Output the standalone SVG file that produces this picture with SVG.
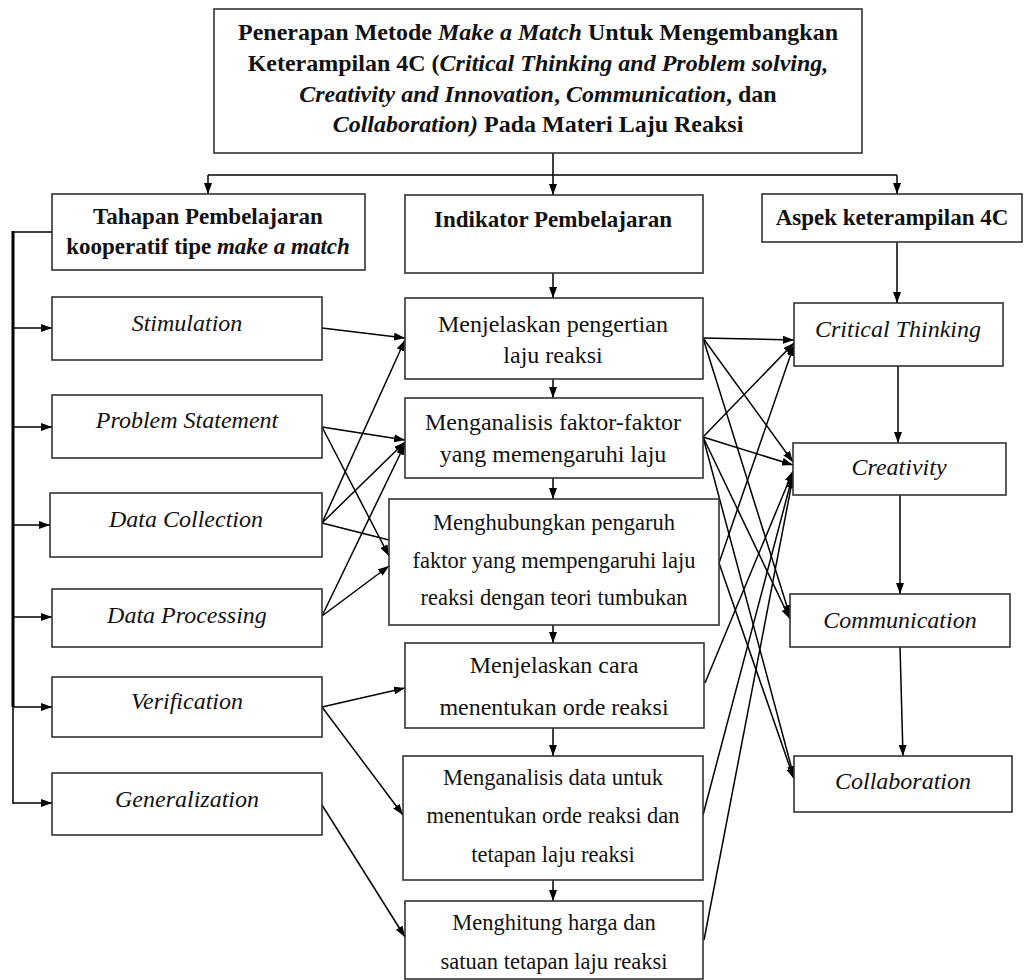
<svg xmlns="http://www.w3.org/2000/svg" width="1025" height="980" viewBox="0 0 1025 980">
<defs>
<marker id="ah" markerWidth="11" markerHeight="8" refX="11" refY="4" orient="auto" markerUnits="userSpaceOnUse"><path d="M0,0 L11,4 L0,8 z" fill="#000"/></marker>
<style>
.box{fill:#fff;stroke:#333;stroke-width:1.6}
.t{font-family:"Liberation Serif","Times New Roman",serif;fill:#111;text-anchor:middle}
.b{font-weight:bold;font-size:23px}
.tt{font-weight:bold;font-size:24px}
.i{font-style:italic;font-size:24px}
.r{font-size:24px}
.s{font-size:22.5px}
.ri{font-style:italic;font-size:24px}
.c{fill:none;stroke:#000;stroke-width:1.5}
.a{fill:none;stroke:#000;stroke-width:1.5;marker-end:url(#ah)}
</style>
</defs>
<rect width="1025" height="980" fill="#fff"/>

<g id="connectors">
  <path class="c" d="M553,153 V175 M208,175 H897"/>
  <path class="a" d="M208,175 V194"/>
  <path class="a" d="M553,175 V195"/>
  <path class="a" d="M897,175 V194"/>
  <path class="c" d="M52,232 H13" />
  <path d="M13,231 V707" fill="none" stroke="#000" stroke-width="3"/>
  <path class="c" d="M13,707 V804"/>
  <path class="a" d="M13,328 H52"/>
  <path class="a" d="M13,427 H52"/>
  <path class="a" d="M13,525 H50"/>
  <path class="a" d="M13,617 H52"/>
  <path class="a" d="M13,707 H52"/>
  <path class="a" d="M13,803 H52"/>
  <path class="a" d="M553,273 V298"/>
  <path class="a" d="M553,379 V398"/>
  <path class="a" d="M553,478 V499"/>
  <path class="a" d="M553,625 V643"/>
  <path class="a" d="M553,728 V756"/>
  <path class="a" d="M553,880 V901"/>
  <path class="a" d="M897,242 V303"/>
  <path class="a" d="M898,366 V443"/>
  <path class="a" d="M900,495 V594"/>
  <path class="a" d="M900,647 L903,756"/>
  <path class="a" d="M322,328 L405,338"/>
  <path class="a" d="M322,427 L405,440"/>
  <path class="a" d="M322,427 L389,556"/>
  <path class="a" d="M322,523 L405,340"/>
  <path class="a" d="M322,523 L405,442"/>
  <path class="c" d="M322,523 L389,540"/>
  <path class="a" d="M322,616 L389,566"/>
  <path class="a" d="M322,616 L405,444"/>
  <path class="a" d="M322,707 L405,688"/>
  <path class="a" d="M322,707 L403,815"/>
  <path class="a" d="M322,805 L405,937"/>
  <path class="a" d="M703,338 L794,340"/>
  <path class="a" d="M703,338 L793,462"/>
  <path class="a" d="M703,338 L790,616"/>
  <path class="a" d="M703,437 L794,343"/>
  <path class="a" d="M703,437 L793,465"/>
  <path class="a" d="M703,437 L790,619"/>
  <path class="a" d="M703,437 L794,777"/>
  <path class="a" d="M719,563 L794,345"/>
  <path class="a" d="M719,563 L794,779"/>
  <path class="a" d="M705,683 L793,471"/>
  <path class="a" d="M703,815 L793,474"/>
  <path class="a" d="M704,940 L793,477"/>
</g>

<g id="title">
  <rect class="box" x="214" y="9" width="648" height="144"/>
  <text class="t tt" x="538" y="40">Penerapan Metode <tspan font-style="italic">Make a Match</tspan> Untuk Mengembangkan</text>
  <text class="t tt" x="538" y="71">Keterampilan 4C (<tspan font-style="italic">Critical Thinking and Problem solving,</tspan></text>
  <text class="t tt" x="538" y="102"><tspan font-style="italic">Creativity and Innovation</tspan>, <tspan font-style="italic">Communication</tspan>, dan</text>
  <text class="t tt" x="538" y="132"><tspan font-style="italic">Collaboration)</tspan> Pada Materi Laju Reaksi</text>
</g>

<g id="tahapan">
  <rect class="box" x="52" y="194" width="313" height="76"/>
  <text class="t b" x="208" y="224">Tahapan Pembelajaran</text>
  <text class="t b" x="208" y="254">kooperatif tipe <tspan font-style="italic">make a match</tspan></text>
</g>
<g id="stimulation"><rect class="box" x="52" y="297" width="270" height="63"/><text class="t i" x="187" y="331">Stimulation</text></g>
<g id="problem-statement"><rect class="box" x="52" y="395" width="270" height="63"/><text class="t i" x="187" y="428">Problem Statement</text></g>
<g id="data-collection"><rect class="box" x="50" y="493" width="272" height="64"/><text class="t i" x="186" y="527">Data Collection</text></g>
<g id="data-processing"><rect class="box" x="52" y="589" width="270" height="58"/><text class="t i" x="187" y="623">Data Processing</text></g>
<g id="verification"><rect class="box" x="52" y="677" width="270" height="60"/><text class="t i" x="187" y="709">Verification</text></g>
<g id="generalization"><rect class="box" x="52" y="773" width="270" height="62"/><text class="t i" x="187" y="807">Generalization</text></g>

<g id="indikator">
  <rect class="box" x="405" y="195" width="298" height="78"/>
  <text class="t b" x="553" y="227">Indikator Pembelajaran</text>
</g>
<g id="ind-1"><rect class="box" x="405" y="298" width="298" height="81"/>
  <text class="t r" x="553" y="332">Menjelaskan pengertian</text>
  <text class="t r" x="553" y="363">laju reaksi</text></g>
<g id="ind-2"><rect class="box" x="405" y="398" width="298" height="80"/>
  <text class="t r" x="553" y="430">Menganalisis faktor-faktor</text>
  <text class="t r" x="553" y="462">yang memengaruhi laju</text></g>
<g id="ind-3"><rect class="box" x="389" y="499" width="330" height="126"/>
  <text class="t s" x="554" y="530">Menghubungkan pengaruh</text>
  <text class="t s" x="554" y="568">faktor yang mempengaruhi laju</text>
  <text class="t s" x="554" y="605">reaksi dengan teori tumbukan</text></g>
<g id="ind-4"><rect class="box" x="405" y="643" width="299" height="85"/>
  <text class="t r" x="554" y="673">Menjelaskan cara</text>
  <text class="t r" x="554" y="715">menentukan orde reaksi</text></g>
<g id="ind-5"><rect class="box" x="403" y="756" width="300" height="124"/>
  <text class="t s" x="553" y="785">Menganalisis data untuk</text>
  <text class="t s" x="553" y="823">menentukan orde reaksi dan</text>
  <text class="t s" x="553" y="862">tetapan laju reaksi</text></g>
<g id="ind-6"><rect class="box" x="405" y="901" width="298" height="78"/>
  <text class="t s" x="554" y="930">Menghitung harga dan</text>
  <text class="t s" x="554" y="969">satuan tetapan laju reaksi</text></g>

<g id="aspek">
  <rect class="box" x="762" y="194" width="260" height="48"/>
  <text class="t b" x="892" y="225">Aspek keterampilan 4C</text>
</g>
<g id="critical-thinking"><rect class="box" x="794" y="303" width="209" height="63"/><text class="t ri" x="898" y="337">Critical Thinking</text></g>
<g id="creativity"><rect class="box" x="793" y="443" width="213" height="52"/><text class="t ri" x="899" y="475">Creativity</text></g>
<g id="communication"><rect class="box" x="790" y="594" width="220" height="53"/><text class="t ri" x="900" y="628">Communication</text></g>
<g id="collaboration"><rect class="box" x="794" y="756" width="218" height="56"/><text class="t ri" x="903" y="789">Collaboration</text></g>
</svg>
